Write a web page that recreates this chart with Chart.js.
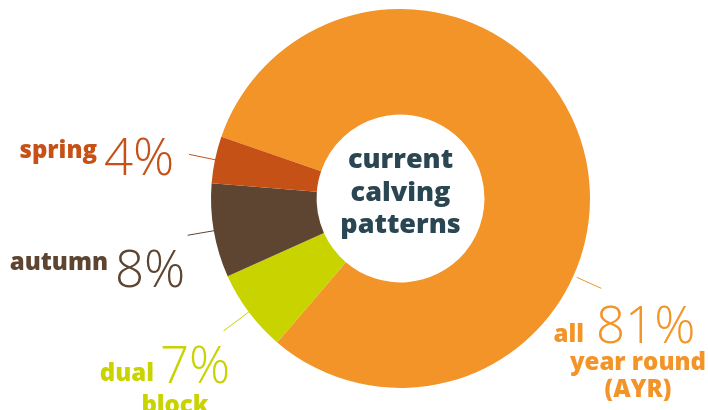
<!DOCTYPE html>
<html>
<head>
<meta charset="utf-8">
<script src="https://cdn.jsdelivr.net/npm/chart.js@4"></script>
<style>
  html, body { margin: 0; padding: 0; background: #fff; }
  #wrap { width: 708px; height: 410px; position: relative; }
</style>
</head>
<body>
<div id="wrap"><canvas id="pie"></canvas></div>
<script>
// calving pattern shares (%), clockwise from the AYR slice
const categories = ['all year round (AYR)', 'dual block', 'autumn', 'spring'];
const shares     = [81, 7, 8, 4];
const colors     = ['#F39428', '#C8D300', '#5D4532', '#C55117'];
const centerText = ['current', 'calving', 'patterns'];

// label text per slice: bold words and the light percentage
const labelWords = [['all', 'year round', '(AYR)'], ['dual', 'block'], ['autumn'], ['spring']];

const BOLD  = '800 24px "Open Sans", sans-serif';
const LIGHT = '300 51px "Open Sans", sans-serif';

// where each label sits (layout only) + leader line angle offset / radii
const labelLayout = [
  { angleOff: 39.3, r0: 193, r1: 220,
    words: [{ x: 584, y: 342, a: 'right' }, { x: 706, y: 370, a: 'right' }, { x: 638, y: 397, a: 'center' }],
    pct: { x: 596, y: 343 } },
  { angleOff: 0, r0: 188, r1: 221,
    words: [{ x: 154, y: 381, a: 'right' }, { x: 175, y: 413, a: 'center' }],
    pct: { x: 160, y: 383 } },
  { angleOff: 0, r0: 186, r1: 216,
    words: [{ x: 108, y: 270, a: 'right' }],
    pct: { x: 115, y: 287 } },
  { angleOff: 0, r0: 185, r1: 216,
    words: [{ x: 97, y: 158, a: 'right' }],
    pct: { x: 104, y: 175 } },
];

const sliceLabels = {
  id: 'sliceLabels',
  afterDraw(chart) {
    const ctx = chart.ctx;
    const meta = chart.getDatasetMeta(0);
    ctx.save();
    meta.data.forEach((arc, i) => {
      const p = arc.getProps(['x', 'y', 'startAngle', 'endAngle', 'outerRadius'], true);
      const lay = labelLayout[i];
      const ang = (p.startAngle + p.endAngle) / 2 + lay.angleOff * Math.PI / 180;
      const r0 = p.outerRadius * lay.r0 / 189.5, r1 = p.outerRadius * lay.r1 / 189.5;
      ctx.strokeStyle = colors[i];
      ctx.lineWidth = 1;
      ctx.beginPath();
      ctx.moveTo(p.x + Math.cos(ang) * r0, p.y + Math.sin(ang) * r0);
      ctx.lineTo(p.x + Math.cos(ang) * r1, p.y + Math.sin(ang) * r1);
      ctx.stroke();

      ctx.fillStyle = colors[i];
      ctx.textBaseline = 'alphabetic';
      ctx.font = BOLD;
      labelWords[i].forEach((w, k) => {
        const pos = lay.words[k];
        ctx.textAlign = pos.a;
        ctx.fillText(w, pos.x, pos.y);
      });
      ctx.font = LIGHT;
      ctx.textAlign = 'left';
      ctx.fillText(shares[i] + '%', lay.pct.x, lay.pct.y);
    });

    // title inside the hole
    const c = meta.data[0];
    ctx.fillStyle = '#2A4652';
    ctx.font = '800 27px "Open Sans", sans-serif';
    ctx.textAlign = 'center';
    const base = [-31, 2, 34];
    centerText.forEach((t, k) => ctx.fillText(t, c.x, c.y + base[k]));
    ctx.restore();
  }
};

new Chart(document.getElementById('pie'), {
  type: 'doughnut',
  data: {
    labels: categories,
    datasets: [{
      data: shares,
      backgroundColor: colors,
      borderWidth: 0,
      hoverOffset: 0,
    }]
  },
  options: {
    responsive: true,
    maintainAspectRatio: false,
    animation: false,
    rotation: -71,
    cutout: '44.3%',
    events: [],
    layout: { padding: { left: 211, right: 118, top: 9, bottom: 22 } },
    plugins: {
      legend: { display: false },
      tooltip: { enabled: false },
    }
  },
  plugins: [sliceLabels]
});
</script>
</body>
</html>
